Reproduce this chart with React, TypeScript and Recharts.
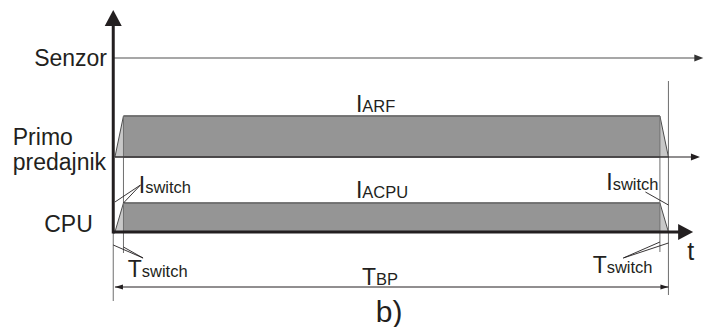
import { ComposedChart, Area, XAxis, YAxis, ReferenceLine, ReferenceDot } from "recharts";

// time in units of T_switch, T_BP = 65
const times = [0, 1, 64, 65];
const rfCurrent = [0, 4.1, 4.1, 0]; // I_ARF
const cpuCurrent = [0, 2.9, 2.9, 0]; // I_ACPU

// signal baselines
const sensorLevel = 17.4;
const rfLevel = 7.5;
const cpuLevel = 0;

const axisT = -0.2;
const period = 65;
const tSwitch = 1;

const FONT = "'Liberation Sans', Arial, sans-serif";
const INK = "#231f20";

const peak = (arr: number[]) => Math.max(...arr);

const data = times.map((t, i) => ({
  t,
  rf: [rfLevel, rfLevel + rfCurrent[i]],
  cpu: [cpuLevel, cpuLevel + cpuCurrent[i]],
  rfBody: rfCurrent[i] === peak(rfCurrent) ? [rfLevel, rfLevel + rfCurrent[i]] : null,
  cpuBody: cpuCurrent[i] === peak(cpuCurrent) ? [cpuLevel, cpuLevel + cpuCurrent[i]] : null,
}));

// text labels: position (t, v), main glyph + subscript
const labels = [
  { t: -0.93, v: 16.6, main: "Senzor", anchor: "end" },
  { t: -12.0, v: 8.7, main: "Primo" },
  { t: -12.0, v: 6.2, main: "predajnik" },
  { t: -2.6, v: 0.0, main: "CPU", anchor: "end" },
  { t: 28.3, v: 12.0, main: "I", sub: "ARF" },
  { t: 28.3, v: 3.4, main: "I", sub: "ACPU" },
  { t: 2.8, v: 3.9, main: "I", sub: "switch" },
  { t: 57.7, v: 4.2, main: "I", sub: "switch" },
  { t: 1.5, v: -4.5, main: "T", sub: "switch" },
  { t: 56.1, v: -4.1, main: "T", sub: "switch" },
  { t: 29.0, v: -5.3, main: "T", sub: "BP" },
  { t: 67.2, v: -2.8, main: "t", size: 25 },
  { t: 32.2, v: -9.0, main: "b)", size: 30, anchor: "middle" },
];

// pointer lines from labels to the switching edges
const leaders = [
  [[3.0, 4.7], [0, 3.0]],
  [[3.0, 4.7], [tSwitch, 2.9]],
  [[62.3, 4.0], [period, 2.7]],
  [[3.3, -2.6], [axisT, -1.3]],
  [[3.3, -2.6], [tSwitch, -1.5]],
  [[59.7, -2.6], [period - tSwitch, -1.0]],
  [[59.7, -2.6], [period, -1.1]],
];

// vertical guide lines at the switching instants
const guides = [
  { t: axisT, from: 0, to: -6.9 },
  { t: tSwitch, from: 11.6, to: -2.1 },
  { t: period - tSwitch, from: 11.6, to: -2.0 },
  { t: period, from: 15.1, to: -6.3 },
];

type Dir = "up" | "left" | "right";
const arrows: { t: number; v: number; dir: Dir; len: number; half: number; color: string }[] = [
  { t: axisT, v: 22.2, dir: "up", len: 16, half: 8.5, color: INK },
  { t: 67.9, v: cpuLevel, dir: "right", len: 15, half: 8, color: INK },
  { t: 69.1, v: sensorLevel, dir: "right", len: 9, half: 3.5, color: "#333" },
  { t: 68.7, v: rfLevel, dir: "right", len: 9, half: 3.5, color: INK },
  { t: 0, v: -5.5, dir: "left", len: 8, half: 2.5, color: INK },
  { t: period, v: -5.5, dir: "right", len: 8, half: 2.5, color: INK },
];

function Arrow({ cx, cy, dir, len, half, color }: any) {
  let pts = "";
  if (dir === "up") pts = `${cx},${cy} ${cx - half},${cy + len} ${cx + half},${cy + len}`;
  if (dir === "right") pts = `${cx},${cy} ${cx - len},${cy - half} ${cx - len},${cy + half}`;
  if (dir === "left") pts = `${cx},${cy} ${cx + len},${cy - half} ${cx + len},${cy + half}`;
  return <polygon points={pts} fill={color} />;
}

function Label({ cx, cy, main, sub, size = 23, anchor = "start" }: any) {
  return (
    <text x={cx} y={cy} fontFamily={FONT} fill={INK} textAnchor={anchor}>
      <tspan fontSize={size}>{main}</tspan>
      {sub && <tspan fontSize={16.5}>{sub}</tspan>}
    </text>
  );
}

const areaProps = {
  type: "linear" as const,
  fillOpacity: 1,
  stroke: "#4d4d4d",
  strokeWidth: 1,
  dot: false,
  activeDot: false,
  isAnimationActive: false,
};

export default function App() {
  return (
    <div style={{ position: "absolute", left: 0, top: 0, width: 711, height: 327, background: "#fff" }}>
      <ComposedChart width={711} height={327} data={data} margin={{ top: 0, right: 0, bottom: 0, left: 0 }}>
        <XAxis type="number" dataKey="t" domain={[-13.5, 70]} hide allowDataOverflow />
        <YAxis type="number" domain={[-9.5, 23.2]} hide allowDataOverflow />

        <Area dataKey="rf" fill="#c8c8c8" {...areaProps} />
        <Area dataKey="rfBody" fill="#959595" {...areaProps} />
        <Area dataKey="cpu" fill="#c8c8c8" {...areaProps} />
        <Area dataKey="cpuBody" fill="#959595" {...areaProps} />

        {guides.map((g, i) => (
          <ReferenceLine key={`g-${i}`} segment={[{ x: g.t, y: g.from }, { x: g.t, y: g.to }]} stroke="#6e6e6e" strokeWidth={1} />
        ))}

        <ReferenceLine segment={[{ x: axisT, y: sensorLevel }, { x: 68.5, y: sensorLevel }]} stroke="#8a8a8a" strokeWidth={1.4} />
        <ReferenceLine segment={[{ x: 0, y: rfLevel }, { x: 68, y: rfLevel }]} stroke={INK} strokeWidth={1.2} />
        <ReferenceLine segment={[{ x: 0, y: -5.5 }, { x: period, y: -5.5 }]} stroke={INK} strokeWidth={1} />

        {leaders.map((l, i) => (
          <ReferenceLine key={`l-${i}`} segment={[{ x: l[0][0], y: l[0][1] }, { x: l[1][0], y: l[1][1] }]} stroke={INK} strokeWidth={0.9} />
        ))}

        {/* main axes */}
        <ReferenceLine segment={[{ x: axisT, y: 21 }, { x: axisT, y: cpuLevel - 0.15 }]} stroke={INK} strokeWidth={3} />
        <ReferenceLine segment={[{ x: axisT, y: cpuLevel }, { x: 66.5, y: cpuLevel }]} stroke={INK} strokeWidth={3} />

        {arrows.map((a, i) => (
          <ReferenceDot key={`a-${i}`} x={a.t} y={a.v} r={0} shape={(p: any) => <Arrow {...p} {...a} />} />
        ))}

        {labels.map((lb, i) => (
          <ReferenceDot key={`t-${i}`} x={lb.t} y={lb.v} r={0} shape={(p: any) => <Label cx={p.cx} cy={p.cy} {...lb} />} />
        ))}
      </ComposedChart>
    </div>
  );
}
